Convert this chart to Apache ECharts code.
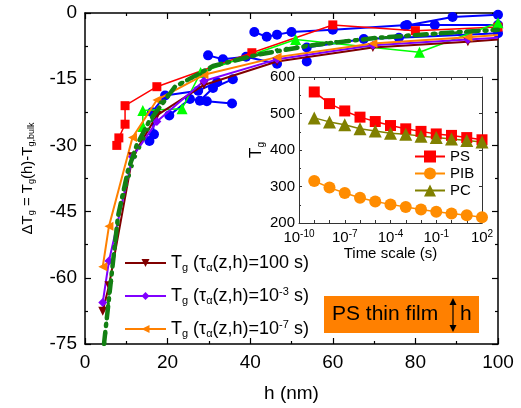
<!DOCTYPE html>
<html>
<head>
<meta charset="utf-8">
<script src="https://cdn.jsdelivr.net/npm/echarts@6/dist/echarts.min.js"></script>
<style>
html,body{margin:0;padding:0;background:#fff;}
#c{width:521px;height:408px;}
</style>
</head>
<body>
<div id="c"></div>
<script>
// ---------- main plot data ----------
const hTicks = [0, 20, 40, 60, 80, 100];
const dTgTicks = [-75, -60, -45, -30, -15, 0];

const hModel = [4.3, 5.8, 11.5, 17.4, 28.8, 46.5, 69.7, 92.7, 100];
const tg100s = [-67.6, -61.8, -32.6, -23.2, -16.3, -11.0, -7.8, -6.5, -6.0];
const tg1em3 = [-65.6, -56.2, -32.6, -24.6, -15.4, -10.5, -7.3, -6.0, -5.6];
const tg1em7 = [-57.5, -48.3, -28.2, -19.7, -14.0, -10.0, -6.9, -5.5, -5.0];

const redH = [7.7, 8.2, 9.7, 9.7, 17.4, 40.4, 60, 80, 100];
const redT = [-30, -28.3, -25.2, -21, -16.7, -9, -2.7, -4, -3.2];

const greenH = [14, 14, 23.5, 28, 51, 81, 100];
const greenT = [-25.7, -22.1, -21.7, -13.5, -6, -8.9, -2.2];

const dashH = [4.6, 6, 8, 10.4, 12.5, 15.5, 21.8, 31, 42, 55, 71, 92.5, 100];
const dashT = [-75, -63, -46, -35.7, -30, -24.6, -16.7, -12, -9.4, -7.3, -5.6, -4.2, -3.8];

const dotH = [4.8, 6, 8.5, 12, 15, 18, 22, 32, 46.5, 60, 81.5, 100];
const dotT = [-75, -62, -44, -33, -27, -20.5, -16.5, -12, -8.3, -6.5, -4.9, -4.0];

const blueRun1 = [[15.6, -29], [16.7, -27.5], [16.2, -22.5], [19.4, -18.7], [27.4, -17.6], [32, -15.7]];
const blueRun2 = [[20.4, -23.2], [25.4, -19.5], [29.5, -20], [35.6, -20.5]];
const blueRun3 = [[27.8, -19.9], [31, -17], [35.8, -15]];
const blueRun4 = [[29.8, -9.6], [33.4, -10.5], [39, -9.9], [46.5, -11.5]];
const blueRun5 = [[41, -4.3], [44, -5.4], [46.5, -4.9], [50, -4.3], [60, -3.8], [78, -2.7], [84.7, -2.7], [100, -2.7]];
const blueRun6 = [[53.7, -11], [53.7, -7.8], [67.5, -5.9], [76, -5.6], [100, -4.6]];
const blueRun7 = [[77.5, -2.9], [89, -0.9], [100, -0.4]];

// ---------- inset data ----------
const timeScale = [1e-9, 1e-8, 1e-7, 1e-6, 1e-5, 1e-4, 1e-3, 1e-2, 1e-1, 1e0, 1e1, 1e2];
const psTg  = [559, 527, 507, 490, 478, 467, 458, 451, 444, 440, 434, 428];
const pibTg = [315, 297, 282, 269, 259, 251, 244, 237, 231, 226, 221, 216];
const pcTg  = [488, 477, 469, 458, 452, 446, 443, 438, 434, 430, 426, 422];
const tgInsetTicks = [200, 300, 400, 500, 600];

const FONT = 'Liberation Sans, Arial, sans-serif';
const zip = (a, b) => a.map((v, i) => [v, b[i]]);

const chart = echarts.init(document.getElementById('c'), null, {renderer: 'canvas'});

const subRich = {
  sub: {fontSize: 11, fontFamily: FONT, color: '#000', padding: [9, 0, 0, 0]},
  sup: {fontSize: 11, fontFamily: FONT, color: '#000', padding: [0, 0, 9, 0]}
};
const nameRich = {
  sub: {fontSize: 9, fontFamily: FONT, color: '#000', padding: [8, 0, 0, 0]}
};

function modelSeries(name, data, color, symbol, rot) {
  return {
    name: name, type: 'line', xAxisIndex: 0, yAxisIndex: 0,
    data: zip(hModel, data).map((p, i) => i === hModel.length - 1 ? {value: p, symbol: 'none'} : p),
    symbol: symbol, symbolSize: 9, symbolRotate: rot || 0,
    lineStyle: {color: color, width: 2}, itemStyle: {color: color},
    z: 5, animation: false, clip: true
  };
}
function blueSeries(run) {
  return {
    type: 'line', xAxisIndex: 0, yAxisIndex: 0, data: run,
    symbol: 'circle', symbolSize: 10,
    lineStyle: {color: '#0000ff', width: 2}, itemStyle: {color: '#0000ff'},
    z: 3, animation: false
  };
}

const ax = {
  axisLine: {onZero: false, lineStyle: {color: '#000', width: 1.5}},
  axisTick: {inside: true, length: 6, lineStyle: {color: '#000', width: 1.2}},
  minorTick: {show: true, splitNumber: 2, length: 3, lineStyle: {color: '#000', width: 1.2}},
  splitLine: {show: false}
};

const option = {
  backgroundColor: '#fff',
  animation: false,
  grid: [
    {left: 85, top: 13, width: 413, height: 336},
    {left: 299, top: 77, width: 183, height: 146}
  ],
  xAxis: [
    Object.assign({}, ax, {
      type: 'value', gridIndex: 0, min: 0, max: 100, interval: 20, position: 'bottom',
      axisLabel: {fontSize: 19, fontFamily: FONT, color: '#000', margin: 9, showMinLabel: true, showMaxLabel: true, hideOverlap: false},
      name: 'h (nm)', nameLocation: 'middle', nameGap: 40,
      nameTextStyle: {fontSize: 19, fontFamily: FONT, color: '#000'}
    }),
    Object.assign({}, ax, {
      type: 'value', gridIndex: 0, min: 0, max: 100, interval: 20, position: 'top',
      axisLabel: {show: false}
    }),
    {
      type: 'log', gridIndex: 1, min: 1e-10, max: 1e2, logBase: 10, interval: 1, position: 'bottom',
      axisLine: {onZero: false, lineStyle: {color: '#333', width: 1}},
      axisTick: {inside: true, length: 3, lineStyle: {color: '#333'}},
      splitLine: {show: false},
      axisLabel: {
        fontSize: 15, fontFamily: FONT, color: '#000', margin: 6, showMinLabel: true, showMaxLabel: true,
        formatter: function (v) {
          const e = Math.round(Math.log10(v));
          if ((e + 10) % 3 !== 0) return '';
          return '10{sup|' + e + '}';
        },
        rich: {sup: {fontSize: 10, fontFamily: FONT, color: '#000', padding: [0, 0, 8, 0]}}
      },
      name: 'Time scale (s)', nameLocation: 'middle', nameGap: 22,
      nameTextStyle: {fontSize: 15, fontFamily: FONT, color: '#000'}
    },
    {
      type: 'log', gridIndex: 1, min: 1e-10, max: 1e2, logBase: 10, interval: 1, position: 'top',
      axisLine: {onZero: false, lineStyle: {color: '#333', width: 1}},
      axisTick: {inside: true, length: 3, lineStyle: {color: '#333'}},
      splitLine: {show: false}, axisLabel: {show: false}
    }
  ],
  yAxis: [
    Object.assign({}, ax, {
      type: 'value', gridIndex: 0, min: -75, max: 0, interval: 15, position: 'left',
      axisLabel: {fontSize: 19, fontFamily: FONT, color: '#000', margin: 8, showMinLabel: true, showMaxLabel: true},
      name: 'ΔT{sub|g} = T{sub|g}(h)-T{sub|g,bulk}', nameLocation: 'middle', nameGap: 49,
      nameTextStyle: {fontSize: 15, fontFamily: FONT, color: '#000', rich: nameRich}
    }),
    Object.assign({}, ax, {
      type: 'value', gridIndex: 0, min: -75, max: 0, interval: 15, position: 'right',
      axisLabel: {show: false}
    }),
    {
      type: 'value', gridIndex: 1, min: 200, max: 600, interval: 100, position: 'left',
      axisLine: {onZero: false, lineStyle: {color: '#333', width: 1}},
      axisTick: {inside: true, length: 3, lineStyle: {color: '#333'}},
      minorTick: {show: true, splitNumber: 2, length: 2, lineStyle: {color: '#333'}},
      splitLine: {show: false},
      axisLabel: {fontSize: 15, fontFamily: FONT, color: '#000', margin: 4},
      name: 'T{sub|g}', nameLocation: 'middle', nameGap: 31,
      nameTextStyle: {fontSize: 17, fontFamily: FONT, color: '#000', rich: {sub: {fontSize: 10, fontFamily: FONT, color: '#000', padding: [9, 0, 0, 0]}}}
    },
    {
      type: 'value', gridIndex: 1, min: 200, max: 600, interval: 100, position: 'right',
      axisLine: {onZero: false, lineStyle: {color: '#333', width: 1}},
      axisTick: {inside: true, length: 3, lineStyle: {color: '#333'}},
      splitLine: {show: false}, axisLabel: {show: false}
    }
  ],
  legend: [
    {
      left: 119, top: 249, orient: 'vertical', itemWidth: 41, itemHeight: 10, itemGap: 13,
      data: ['tau100', 'tau1e-3', 'tau1e-7'],
      formatter: function (n) {
        if (n === 'tau100') return 'T{sub|g} (τ{sub|α}(z,h)=100 s)';
        if (n === 'tau1e-3') return 'T{sub|g} (τ{sub|α}(z,h)=10{sup|-3} s)';
        return 'T{sub|g} (τ{sub|α}(z,h)=10{sup|-7} s)';
      },
      textStyle: {fontSize: 18, fontFamily: FONT, color: '#000', rich: subRich},
      selectedMode: false
    },
    {
      left: 409, top: 144, orient: 'vertical', itemWidth: 30, itemHeight: 15, itemGap: 2,
      data: ['PS', 'PIB', 'PC'],
      textStyle: {fontSize: 15, fontFamily: FONT, color: '#000'},
      selectedMode: false
    }
  ],
  series: [
    blueSeries(blueRun1), blueSeries(blueRun2), blueSeries(blueRun3), blueSeries(blueRun4),
    blueSeries(blueRun5), blueSeries(blueRun6), blueSeries(blueRun7),
    {
      type: 'line', xAxisIndex: 0, yAxisIndex: 0, data: zip(redH, redT),
      symbol: 'rect', symbolSize: 9, lineStyle: {color: '#ff0000', width: 1.5}, itemStyle: {color: '#ff0000'}, z: 4
    },
    {
      type: 'line', xAxisIndex: 0, yAxisIndex: 0, data: zip(greenH, greenT),
      symbol: 'triangle', symbolSize: 11, lineStyle: {color: '#00ff00', width: 1.5}, itemStyle: {color: '#00ff00'}, z: 4
    },
    {
      type: 'line', xAxisIndex: 0, yAxisIndex: 0, data: zip(dashH, dashT), symbol: 'none',
      lineStyle: {color: '#138013', width: 4.5, type: [12, 6, 2, 6], cap: 'round'}, z: 6
    },
    {
      type: 'line', xAxisIndex: 0, yAxisIndex: 0, data: zip(dotH, dotT), symbol: 'none',
      lineStyle: {color: '#138013', width: 3, type: [1, 9], cap: 'round'}, z: 6
    },
    modelSeries('tau100', tg100s, '#800000', 'triangle', 180),
    modelSeries('tau1e-3', tg1em3, '#8000ff', 'diamond', 0),
    modelSeries('tau1e-7', tg1em7, '#ff8000', 'triangle', 90),
    {
      name: 'PS', type: 'line', xAxisIndex: 2, yAxisIndex: 2, data: zip(timeScale, psTg),
      symbol: 'rect', symbolSize: 11, lineStyle: {color: '#ff0000', width: 1.5}, itemStyle: {color: '#ff0000'}
    },
    {
      name: 'PIB', type: 'line', xAxisIndex: 2, yAxisIndex: 2, data: zip(timeScale, pibTg),
      symbol: 'circle', symbolSize: 12, lineStyle: {color: '#ff8c00', width: 1.5}, itemStyle: {color: '#ff8c00'}
    },
    {
      name: 'PC', type: 'line', xAxisIndex: 2, yAxisIndex: 2, data: zip(timeScale, pcTg),
      symbol: 'triangle', symbolSize: 13, lineStyle: {color: '#808000', width: 1.5}, itemStyle: {color: '#808000'}
    }
  ],
  graphic: [
    {type: 'rect', left: 324, top: 296, shape: {width: 155, height: 37}, style: {fill: '#ff8000'}, z: 10},
    {type: 'text', left: 332, top: 304, style: {text: 'PS thin film', font: '21px ' + FONT, fill: '#000'}, z: 11},
    {type: 'line', shape: {x1: 453, y1: 300, x2: 453, y2: 330}, style: {stroke: '#000', lineWidth: 1.2}, z: 11},
    {type: 'polygon', shape: {points: [[449.5, 305], [453, 298], [456.5, 305]]}, style: {fill: '#000'}, z: 11},
    {type: 'polygon', shape: {points: [[449.5, 325], [453, 332], [456.5, 325]]}, style: {fill: '#000'}, z: 11},
    {type: 'text', left: 460, top: 304, style: {text: 'h', font: '21px ' + FONT, fill: '#000'}, z: 11}
  ]
};
chart.setOption(option);
</script>
</body>
</html>
